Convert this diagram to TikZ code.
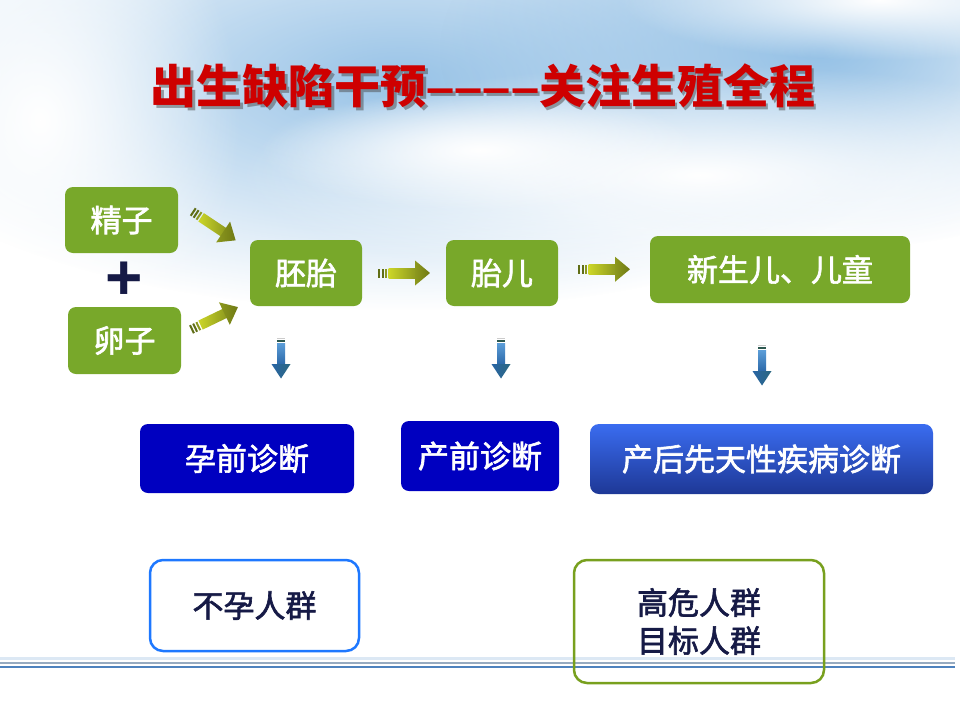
\documentclass[tikz,border=0pt]{standalone}
\usepackage{fontspec}
\setmainfont{Noto Sans CJK SC}
\newfontfamily\boxfont[FakeBold=2]{Noto Sans CJK SC}
\newfontfamily\latfont{Liberation Sans}
\usetikzlibrary{fadings,calc}
\definecolor{gfill}{RGB}{120,168,42}
\definecolor{dblue}{RGB}{0,0,192}
\definecolor{btop}{RGB}{58,108,240}
\definecolor{bbot}{RGB}{30,56,150}
\definecolor{skyb}{RGB}{140,188,228}
\definecolor{navy}{RGB}{22,26,70}
\definecolor{titred}{RGB}{206,0,0}
\definecolor{olvdark}{RGB}{96,110,22}
\definecolor{olvmid}{RGB}{140,152,30}
\definecolor{ylw}{RGB}{204,214,40}
\definecolor{olvhead}{RGB}{112,122,20}
\definecolor{bshaft1}{RGB}{92,158,216}
\definecolor{bshaft2}{RGB}{40,100,165}
\definecolor{bhead}{RGB}{44,104,128}
\definecolor{bstripe}{RGB}{44,88,80}
\definecolor{bluebord}{RGB}{30,120,255}
\definecolor{greenbord}{RGB}{120,160,30}
\tikzfading[name=fuzzy, inner color=transparent!0, outer color=transparent!100]
\tikzset{
  gbox/.style={rounded corners=8pt, fill=gfill, text=white, inner sep=0pt,
    font=\boxfont\fontsize{31}{36}\selectfont},
  dbbox/.style={rounded corners=8pt, fill=dblue, text=white, inner sep=0pt,
    font=\boxfont\fontsize{31}{36}\selectfont},
  gradbox/.style={rounded corners=9pt, top color=btop, bottom color=bbot, text=white, inner sep=0pt,
    font=\boxfont\fontsize{31}{36}\selectfont},
  outbox/.style={rounded corners=13pt, line width=2.5pt, inner sep=0pt, text=navy,
    font=\boxfont\fontsize{31}{38}\selectfont, align=center},
  garrow/.pic={
    \fill[olvdark] (-26,-4.5) rectangle (-24,4.5);
    \fill[olvdark] (-22.5,-4.5) rectangle (-20.5,4.5);
    \fill[olvmid] (-19,-4.5) rectangle (-17,4.5);
    \shade[left color=ylw, right color=olvmid] (-15.5,-5) rectangle (12,5);
    \shade[left color=olvmid, right color=olvhead] (11,-12.5) -- (26,0) -- (11,12.5) -- cycle;
  },
  barrow/.pic={
    \fill[black!20] (-20.5,-4) rectangle (-19.3,4);
    \fill[bstripe] (-18.5,-4) rectangle (-16.3,4);
    \shade[top color=bshaft1, bottom color=bshaft2] (-15,-4) rectangle (8,4);
    \shade[left color=bshaft2, right color=bhead] (6,-9.5) -- (20.5,0) -- (6,9.5) -- cycle;
  }
}
\begin{document}
\begin{tikzpicture}[x=1pt,y=-1pt]
\useasboundingbox (0,0) rectangle (960,720);
\fill[white] (0,0) rectangle (960,720);
% sky background
\fill[skyb, path fading=fuzzy, opacity=0.9] (400,80) ellipse (560 and 230);
\fill[skyb, path fading=fuzzy, opacity=0.9] (820,50) ellipse (380 and 200);
\fill[white, path fading=fuzzy] (700,175) ellipse (460 and 110);
\fill[white, path fading=fuzzy] (480,150) ellipse (220 and 60);
\fill[white, path fading=fuzzy] (880,0) ellipse (260 and 60);
\fill[white, path fading=fuzzy] (40,120) ellipse (200 and 260);

% title
\node[text=black!70, opacity=0.5, font=\bfseries\fontsize{46}{46}\selectfont] (titleshadow) at (485.5,88.5)
  {出生缺陷干预{\latfont\scalebox{1.1}[1]{––––}}关注生殖全程};
\node[text=titred, font=\bfseries\fontsize{46}{46}\selectfont] (title) at (483,86)
  {出生缺陷干预{\latfont\scalebox{1.1}[1]{––––}}关注生殖全程};

% green boxes
\node[gbox, minimum width=113pt, minimum height=66pt] (jingzi) at (121.5,220) {精子};
\node[gbox, minimum width=113pt, minimum height=67pt] (luanzi) at (124.5,340.5) {卵子};
\node[gbox, minimum width=112pt, minimum height=66pt] (peitai) at (306,273) {胚胎};
\node[gbox, minimum width=112pt, minimum height=66pt] (taier) at (502,273) {胎儿};
\node[gbox, minimum width=260pt, minimum height=67pt] (xinsheng) at (780,269.5) {新生儿、儿童};
\node[text=navy, font=\latfont\bfseries\fontsize{64}{64}\selectfont] (plus) at (124.5,281) {+};

% blue boxes
\node[dbbox, minimum width=214pt, minimum height=69pt] (yunqian) at (247,458.5) {孕前诊断};
\node[dbbox, minimum width=158pt, minimum height=70pt] (chanqian) at (480,456) {产前诊断};
\node[gradbox, minimum width=343pt, minimum height=70pt] (chanhou) at (761.5,459) {产后先天性疾病诊断};

% arrows
\coordinate (a1) at ($(jingzi.east)!0.5!(peitai.north west)+(0,-4)$);
\coordinate (a2) at ($(luanzi.east)!0.5!(peitai.south west)+(-1,-5)$);
\coordinate (a3) at ($(peitai.east)!0.5!(taier.west)+(0,0)$);
\coordinate (a4) at ($(taier.east)!0.5!(xinsheng.west)+(0,-2)$);
\pic[rotate=-33.7] at (a1) {garrow};
\pic[rotate=25.7] at (a2) {garrow};
\pic at (a3) {garrow};
\pic at (a4) {garrow};
\coordinate (d1) at (281,358);
\coordinate (d2) at (501,358);
\coordinate (d3) at (762,365);
\pic[rotate=-90] at (d1) {barrow};
\pic[rotate=-90] at (d2) {barrow};
\pic[rotate=-90] at (d3) {barrow};

% bottom lines
\draw[line width=3pt, color={rgb,255:red,220;green,232;blue,244}] (0,658) -- (955,658);
\draw[line width=1.8pt, color={rgb,255:red,150;green,170;blue,192}] (0,663) -- (955,663);
\draw[line width=2.6pt, color={rgb,255:red,78;green,130;blue,190}] (0,667) -- (955,667);

% outline boxes
\node[outbox, draw=bluebord, fill=white, minimum width=209pt, minimum height=91pt] (buyun) at (254.5,605.5) {不孕人群};
\node[outbox, draw=greenbord, minimum width=250pt, minimum height=123pt] (gaowei) at (699,621.5) {高危人群\\目标人群};
\end{tikzpicture}
\end{document}
